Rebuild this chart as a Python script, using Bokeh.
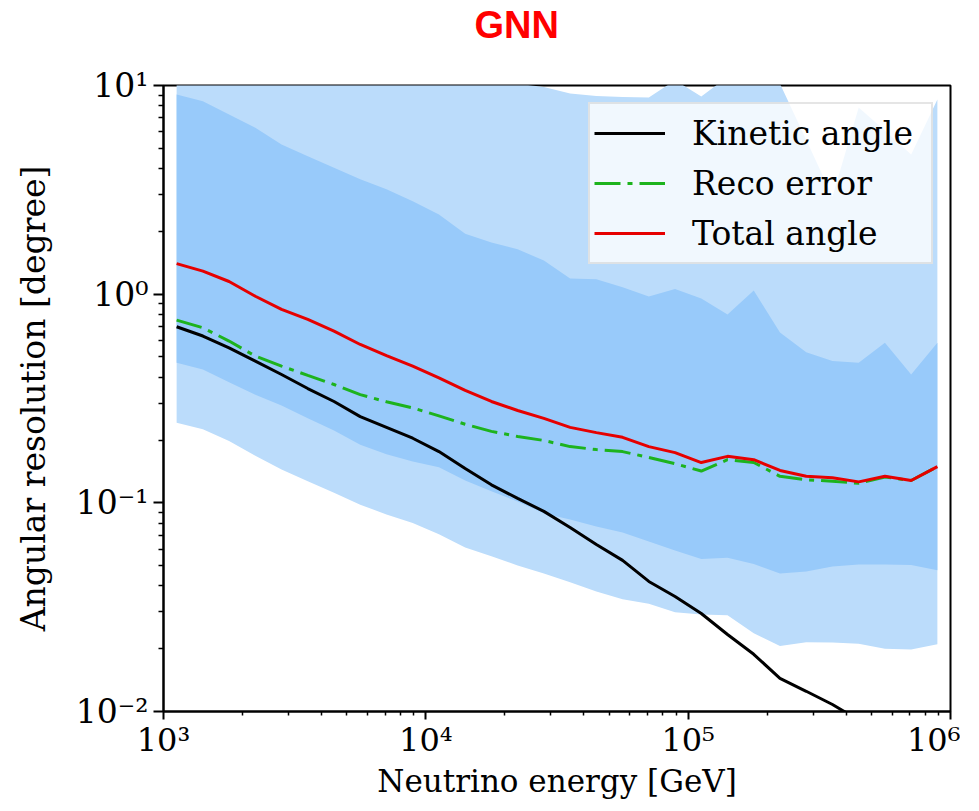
from bokeh.plotting import figure
from bokeh.models import Range1d, FixedTicker, Legend, LegendItem, CustomJSTickFormatter, Title
from bokeh.embed import file_html
from bokeh.resources import INLINE

# ---- data ----
energy_gev = [1122, 1413, 1778, 2239, 2818, 3548, 4467, 5623, 7079, 8913,
              11220, 14125, 17783, 22387, 28184, 35481, 44668, 56234, 70795, 89125,
              112202, 141254, 177828, 223872, 281838, 354813, 446684, 562341, 707946, 891251]

kinetic_angle = [0.698, 0.630, 0.553, 0.478, 0.412, 0.353, 0.306, 0.259, 0.230, 0.204,
                 0.176, 0.146, 0.122, 0.105, 0.091, 0.0762, 0.0632, 0.053, 0.042, 0.0356,
                 0.0295, 0.0234, 0.0188, 0.0144, 0.0125, 0.0108, 0.0091, 0.0080, 0.0070, 0.0062]

reco_error = [0.751, 0.690, 0.596, 0.505, 0.452, 0.408, 0.369, 0.330, 0.305, 0.285,
              0.261, 0.238, 0.220, 0.208, 0.199, 0.186, 0.180, 0.176, 0.165, 0.154,
              0.142, 0.161, 0.156, 0.134, 0.129, 0.127, 0.124, 0.133, 0.128, 0.149]

total_angle = [1.40, 1.29, 1.15, 0.977, 0.845, 0.757, 0.665, 0.574, 0.508, 0.452,
               0.397, 0.346, 0.306, 0.277, 0.254, 0.230, 0.217, 0.206, 0.186, 0.174,
               0.156, 0.167, 0.161, 0.143, 0.134, 0.132, 0.126, 0.134, 0.128, 0.149]

inner_hi = [9.05, 8.41, 7.26, 6.27, 5.21, 4.58, 4.03, 3.55, 3.18, 2.79,
            2.41, 1.95, 1.77, 1.64, 1.45, 1.19, 1.18, 1.08, 0.975, 1.06,
            0.953, 0.80, 1.04, 0.655, 0.527, 0.478, 0.469, 0.585, 0.412, 0.585]

inner_lo = [0.469, 0.435, 0.378, 0.330, 0.293, 0.254, 0.222, 0.190, 0.171, 0.158,
            0.148, 0.128, 0.1135, 0.1016, 0.089, 0.0832, 0.0771, 0.0721, 0.0653, 0.0591,
            0.0538, 0.0545, 0.0509, 0.0459, 0.0469, 0.0496, 0.0507, 0.0507, 0.0504, 0.0475]

outer_hi = [14.2, 13.8, 13.1, 12.9, 12.4, 12.1, 11.8, 11.6, 11.2, 11.0,
            10.9, 10.6, 10.4, 10.2, 9.84, 9.16, 8.91, 8.81, 8.76, 10.6,
            8.86, 11.0, 10.7, 10.2, 5.5, 2.94, 7.85, 6.08, 4.67, 8.57]

outer_lo = [0.242, 0.225, 0.198, 0.168, 0.1445, 0.127, 0.1117, 0.098, 0.088, 0.080,
            0.0707, 0.0611, 0.0554, 0.0501, 0.0459, 0.0416, 0.0376, 0.0345, 0.0328, 0.0299,
            0.0292, 0.0289, 0.0237, 0.0206, 0.0215, 0.0214, 0.0211, 0.0200, 0.0198, 0.0210]

x_major = [1e3, 1e4, 1e5, 1e6]
y_major = [1e-2, 1e-1, 1e0, 1e1]

SERIF = "DejaVu Serif"
FS = "33px"

p = figure(x_axis_type="log", y_axis_type="log",
           x_range=Range1d(1e3, 1e6), y_range=Range1d(1e-2, 1e1),
           frame_width=787, frame_height=626,
           min_border_left=163, min_border_right=10, min_border_top=85, min_border_bottom=84,
           output_backend="svg", toolbar_location=None,
           background_fill_color="white", border_fill_color="white")

# spacer (nearest the frame) then the red title above it
p.add_layout(Title(text=" ", text_font_size="1px", standoff=37), "above")
p.add_layout(Title(text="GNN", text_color="#ff0000", text_font="Liberation Sans",
                   text_font_style="bold", text_font_size="38px",
                   align="left", offset=311, standoff=0), "above")

p.xgrid.visible = False
p.ygrid.visible = False
p.outline_line_color = "black"
p.outline_line_width = 2
p.outline_line_alpha = 1.0

p.varea(x=energy_gev, y1=outer_lo, y2=outer_hi, fill_color="#bbdcfb")
p.varea(x=energy_gev, y1=inner_lo, y2=inner_hi, fill_color="#98cafa")
r_k = p.line(energy_gev, kinetic_angle, line_color="black", line_width=3)
r_r = p.line(energy_gev, reco_error, line_color="#1db31d", line_width=3, line_dash="26 7 5 7")
r_t = p.line(energy_gev, total_angle, line_color="#e60000", line_width=3)

sup_fmt = CustomJSTickFormatter(code="""
const sup = {'0':'\u2070','1':'\u00b9','2':'\u00b2','3':'\u00b3','4':'\u2074','5':'\u2075',
             '6':'\u2076','7':'\u2077','8':'\u2078','9':'\u2079','-':'\u207b'};
const e = Math.round(Math.log10(tick));
const s = String(e).split('').map(c => sup[c]).join('');
return '10' + s;
""")

p.xaxis.ticker = FixedTicker(ticks=x_major,
                             minor_ticks=[m * 10 ** e for e in range(3, 6) for m in range(2, 10)])
p.yaxis.ticker = FixedTicker(ticks=y_major,
                             minor_ticks=[m * 10.0 ** e for e in range(-2, 1) for m in range(2, 10)])

for ax, fs_tick, fs_lab, tick_len in ((p.xaxis[0], "32px", "31px", 8), (p.yaxis[0], FS, FS, 10)):
    ax.formatter = sup_fmt
    ax.axis_line_width = 2
    ax.axis_line_color = "black"
    ax.major_tick_line_width = 2
    ax.minor_tick_line_width = 1.5
    ax.major_tick_out = tick_len
    ax.major_tick_in = 0
    ax.minor_tick_out = tick_len // 2
    ax.minor_tick_in = 0
    ax.major_label_text_font = SERIF
    ax.major_label_text_font_size = fs_tick
    ax.major_label_text_color = "black"
    ax.axis_label_text_font = SERIF
    ax.axis_label_text_font_size = fs_lab
    ax.axis_label_text_font_style = "normal"
    ax.axis_label_text_color = "black"

p.xaxis.axis_label = "Neutrino energy [GeV]"
p.yaxis.axis_label = "Angular resolution [degree]"
p.xaxis.major_label_standoff = 1
p.xaxis.axis_label_standoff = 1
p.yaxis.axis_label_standoff = 20

legend = Legend(items=[LegendItem(label="Kinetic angle", renderers=[r_k]),
                       LegendItem(label="Reco error", renderers=[r_r]),
                       LegendItem(label="Total angle", renderers=[r_t])],
                location="top_right", margin=17, padding=4, spacing=0,
                glyph_width=71, glyph_height=50, label_height=50, label_width=235,
                label_standoff=27,
                label_text_font=SERIF, label_text_font_size=FS, label_text_color="black",
                border_line_color="#cccccc", border_line_width=2,
                background_fill_color="white", background_fill_alpha=0.8)
p.add_layout(legend)

open("out.html", "w").write(file_html(p, INLINE))
